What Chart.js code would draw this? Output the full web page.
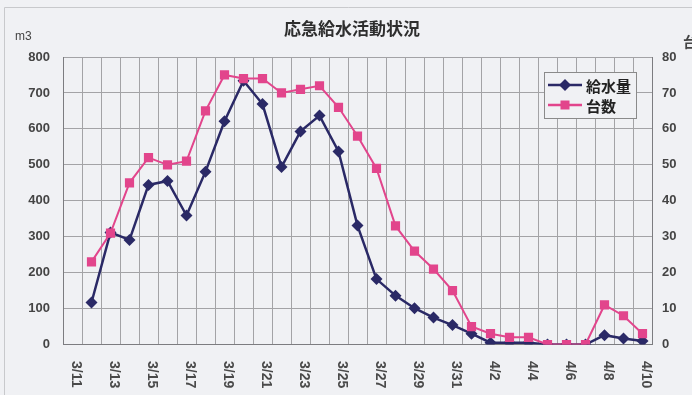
<!DOCTYPE html>
<html lang="ja">
<head>
<meta charset="utf-8">
<title>応急給水活動状況</title>
<script src="https://cdn.jsdelivr.net/npm/chart.js@4.4.1/dist/chart.umd.min.js"></script>
<style>
  html, body { margin: 0; padding: 0; background: #f0f1f4; }
  #wrap { width: 692px; height: 395px; position: relative; }
</style>
</head>
<body>
<div id="wrap"><canvas id="chart" width="692" height="395"></canvas></div>
<script>
// 日付 (3/11 - 4/10)
const dates = [
  '3/11', '3/12', '3/13', '3/14', '3/15', '3/16', '3/17', '3/18', '3/19', '3/20',
  '3/21', '3/22', '3/23', '3/24', '3/25', '3/26', '3/27', '3/28', '3/29', '3/30',
  '3/31', '4/1', '4/2', '4/3', '4/4', '4/5', '4/6', '4/7', '4/8', '4/9', '4/10'
];

// 給水量 (m3) - 左軸
const waterVolume = [
  null, 117, 312, 291, 444, 455, 359, 481, 621, 734,
  669, 494, 593, 637, 537, 331, 182, 136, 101, 75,
  54, 30, 5, 5, 5, 0, 0, 0, 26, 17, 10
];

// 台数 - 右軸
const trucks = [
  null, 23, 31, 45, 52, 50, 51, 65, 75, 74,
  74, 70, 71, 72, 66, 58, 49, 33, 26, 21,
  15, 5, 3, 2, 2, 0, 0, 0, 11, 8, 3
];

const volumeAxis = { min: 0, max: 800, step: 100 };
const truckAxis = { min: 0, max: 80, step: 10 };

const NAVY = '#2a2966';
const PINK = '#e2458c';
const BG = '#f0f1f4';

// 背景・タイトル・単位・X軸ラベル・凡例
const decor = {
    id: 'decor',
    beforeDraw: function(chart) {
        const ctx = chart.ctx;
        ctx.save();
        ctx.fillStyle = BG;
        ctx.fillRect(0, 0, chart.width, chart.height);
        // 外枠
        ctx.strokeStyle = '#c8c9cc';
        ctx.lineWidth = 1;
        ctx.beginPath();
        ctx.moveTo(4.5, chart.height);
        ctx.lineTo(4.5, 7.5);
        ctx.lineTo(chart.width, 7.5);
        ctx.stroke();
        ctx.restore();
    },
    afterDraw: function(chart) {
        const ctx = chart.ctx;
        ctx.save();

        // タイトル
        ctx.fillStyle = '#2e2e2e';
        ctx.font = 'bold 17px "Noto Sans CJK JP"';
        ctx.textAlign = 'center';
        ctx.textBaseline = 'middle';
        ctx.fillText('応急給水活動状況', 352, 29);

        // 単位
        ctx.fillStyle = '#444';
        ctx.font = '12px "Liberation Sans"';
        ctx.textAlign = 'left';
        ctx.fillText('m3', 15, 37);
        ctx.font = 'bold 14px "Noto Sans CJK JP"';
        ctx.fillText('台', 683, 42);

        // X軸ラベル (時計回りに90度回転、1日おき)
        const xs = chart.scales.x;
        ctx.font = 'bold 14px "Liberation Sans"';
        ctx.fillStyle = '#4a4a4a';
        dates.forEach(function(d, i) {
            if (i % 2) return;
            const x = xs.getPixelForValue(i);
            ctx.save();
            ctx.translate(x + 3, 361);
            ctx.rotate(Math.PI / 2);
            ctx.textAlign = 'left';
            ctx.textBaseline = 'middle';
            ctx.fillText(d, 0, 0);
            ctx.restore();
        });

        // 凡例
        const bx = 544.5, by = 72.5, bw = 92, bh = 46;
        ctx.fillStyle = BG;
        ctx.fillRect(bx, by, bw, bh);
        ctx.strokeStyle = '#8a8a8a';
        ctx.lineWidth = 1;
        ctx.strokeRect(bx, by, bw, bh);

        const items = [
            { label: chart.data.datasets[0].label, color: NAVY, style: 'diamond', y: 85 },
            { label: chart.data.datasets[1].label, color: PINK, style: 'square', y: 105 }
        ];
        items.forEach(function(it) {
            ctx.strokeStyle = it.color;
            ctx.lineWidth = 2.5;
            ctx.beginPath();
            ctx.moveTo(548, it.y);
            ctx.lineTo(582, it.y);
            ctx.stroke();
            ctx.fillStyle = it.color;
            ctx.beginPath();
            if (it.style === 'diamond') {
                ctx.moveTo(565, it.y - 6);
                ctx.lineTo(571, it.y);
                ctx.lineTo(565, it.y + 6);
                ctx.lineTo(559, it.y);
                ctx.closePath();
            } else {
                ctx.rect(560.5, it.y - 4.5, 9, 9);
            }
            ctx.fill();
            ctx.fillStyle = '#222';
            ctx.font = 'bold 15px "Noto Sans CJK JP"';
            ctx.textAlign = 'left';
            ctx.textBaseline = 'middle';
            ctx.fillText(it.label, 586, it.y + 1);
        });

        ctx.restore();
    }
};

const tickFont = { family: '"Liberation Sans"', size: 13, weight: 'bold' };

new Chart(document.getElementById('chart'), {
    type: 'line',
    data: {
        labels: dates,
        datasets: [
            {
                label: '給水量',
                data: waterVolume,
                yAxisID: 'y',
                borderColor: NAVY,
                backgroundColor: NAVY,
                borderWidth: 2.5,
                pointStyle: 'rectRot',
                pointRadius: 6,
                pointBorderWidth: 0,
                order: 1
            },
            {
                label: '台数',
                data: trucks,
                yAxisID: 'y1',
                borderColor: PINK,
                backgroundColor: PINK,
                borderWidth: 2,
                pointStyle: 'rect',
                pointRadius: 6.5,
                pointBorderWidth: 0,
                order: 0
            }
        ]
    },
    options: {
        responsive: false,
        animation: false,
        devicePixelRatio: 1,
        layout: { padding: { top: 57, left: 0, right: 0, bottom: 0 } },
        elements: { line: { tension: 0 } },
        plugins: {
            legend: { display: false },
            title: { display: false },
            tooltip: { enabled: false }
        },
        scales: {
            x: {
                type: 'category',
                offset: true,
                grid: { offset: true, color: '#a3a3a6', lineWidth: 1, drawTicks: false },
                border: { color: '#7c7c80', width: 1 },
                ticks: { display: false },
                afterFit: function(scale) { scale.height = 50.5; }
            },
            y: {
                position: 'left',
                min: volumeAxis.min,
                max: volumeAxis.max,
                ticks: { stepSize: volumeAxis.step, padding: 13, color: '#444', font: tickFont },
                grid: { color: '#a3a3a6', lineWidth: 1, drawTicks: false },
                border: { color: '#7c7c80', width: 1 },
                afterFit: function(scale) { scale.width = 63; }
            },
            y1: {
                position: 'right',
                min: truckAxis.min,
                max: truckAxis.max,
                ticks: { stepSize: truckAxis.step, padding: 10, color: '#444', font: tickFont },
                grid: { drawOnChartArea: false, drawTicks: false },
                border: { color: '#7c7c80', width: 1 },
                afterFit: function(scale) { scale.width = 40; }
            }
        }
    },
    plugins: [decor]
});
</script>
</body>
</html>
